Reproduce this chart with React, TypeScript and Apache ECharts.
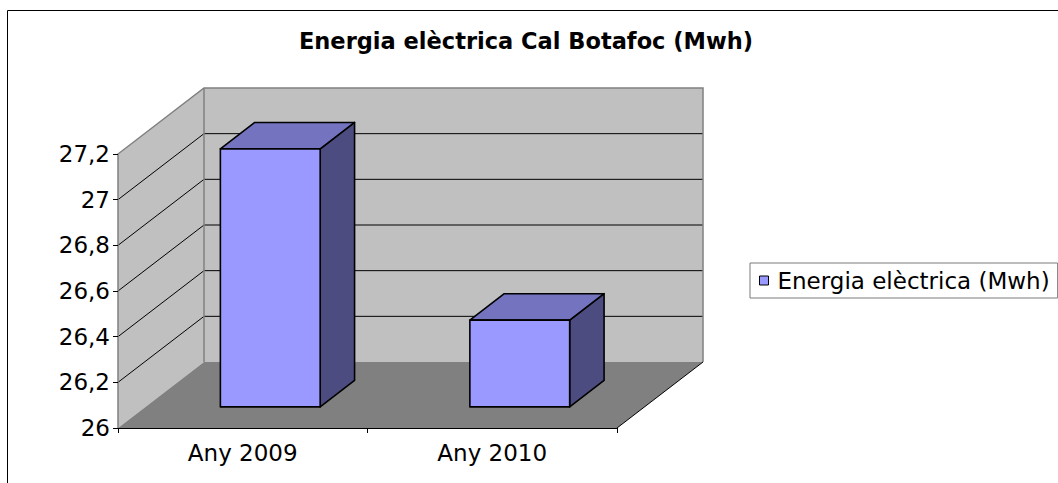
import React, { useEffect, useRef } from "react";
import * as echarts from "echarts";

const TITLE = "Energia elèctrica Cal Botafoc (Mwh)";
const CATEGORIES = ["Any 2009", "Any 2010"];
const SERIES_NAME = "Energia elèctrica (Mwh)";
const VALUES = [27.13, 26.38];
const Y_MIN = 26;
const Y_MAX = 27.2;
const Y_STEP = 0.2;
const GRID_VALUES = [26.2, 26.4, 26.6, 26.8, 27.0];

// 3D look (pixels / fractions)
const DX = 86;
const DY = -66;
const BAR_FRONT = 0.32;
const BAR_BACK = 0.72;
const BAR_WIDTH = 0.4;

const FONT = "DejaVu Sans";

export default function App() {
  const ref = useRef<HTMLDivElement>(null);

  useEffect(() => {
    const chart = echarts.init(ref.current!, null, { renderer: "svg" });

    const wallsRender = (_params: any, api: any) => {
      const band = api.size([1, 0])[0];
      const p0 = api.coord([0, Y_MIN]);
      const p1 = api.coord([CATEGORIES.length - 1, Y_MIN]);
      const xL = p0[0] - band / 2;
      const xR = p1[0] + band / 2;
      const yB = p0[1];
      const yT = api.coord([0, Y_MAX])[1];
      const children: any[] = [];
      children.push({
        type: "polygon",
        shape: { points: [[xL, yB], [xL, yT], [xL + DX, yT + DY], [xL + DX, yB + DY]] },
        style: { fill: "#C0C0C0" },
      });
      children.push({
        type: "polygon",
        shape: { points: [[xL + DX, yT + DY], [xR + DX, yT + DY], [xR + DX, yB + DY], [xL + DX, yB + DY]] },
        style: { fill: "#C0C0C0" },
      });
      children.push({
        type: "polygon",
        shape: { points: [[xL, yB], [xR, yB], [xR + DX, yB + DY], [xL + DX, yB + DY]] },
        style: { fill: "#808080" },
      });
      GRID_VALUES.forEach((v) => {
        const y = api.coord([0, v])[1];
        children.push({
          type: "polyline",
          shape: { points: [[xL, y], [xL + DX, y + DY], [xR + DX, y + DY]] },
          style: { stroke: "#000", fill: null, lineWidth: 1 },
        });
      });
      children.push({
        type: "polyline",
        shape: { points: [[xL, yB], [xL, yT], [xL + DX, yT + DY], [xR + DX, yT + DY], [xR + DX, yB + DY]] },
        style: { stroke: "#808080", fill: null, lineWidth: 1.5 },
      });
      children.push({
        type: "line",
        shape: { x1: xL + DX, y1: yT + DY, x2: xL + DX, y2: yB + DY },
        style: { stroke: "#808080", lineWidth: 1.5 },
      });
      children.push({
        type: "line",
        shape: { x1: xR, y1: yB, x2: xR + DX, y2: yB + DY },
        style: { stroke: "#000", lineWidth: 1 },
      });
      return { type: "group", children };
    };

    const barsRender = (_params: any, api: any) => {
      const cat = api.value(0);
      const val = api.value(1);
      const band = api.size([1, 0])[0];
      const base = api.coord([cat, Y_MIN]);
      const top = api.coord([cat, val]);
      const w = band * BAR_WIDTH;
      const fx = DX * BAR_FRONT;
      const fy = DY * BAR_FRONT;
      const bx = DX * (BAR_BACK - BAR_FRONT);
      const by = DY * (BAR_BACK - BAR_FRONT);
      const x0 = base[0] - w / 2 + fx;
      const x1 = base[0] + w / 2 + fx;
      const yb = base[1] + fy;
      const yt = top[1] + fy;
      const stroke = { stroke: "#000", lineWidth: 1.6, lineJoin: "round" };
      return {
        type: "group",
        children: [
          {
            type: "polygon",
            shape: { points: [[x1, yt], [x1 + bx, yt + by], [x1 + bx, yb + by], [x1, yb]] },
            style: { fill: "#4C4C80", ...stroke },
          },
          {
            type: "polygon",
            shape: { points: [[x0, yt], [x0 + bx, yt + by], [x1 + bx, yt + by], [x1, yt]] },
            style: { fill: "#7373BF", ...stroke },
          },
          {
            type: "polygon",
            shape: { points: [[x0, yt], [x1, yt], [x1, yb], [x0, yb]] },
            style: { fill: "#9999FF", ...stroke },
          },
        ],
      };
    };

    const option: any = {
      animation: false,
      backgroundColor: "#ffffff",
      title: {
        text: TITLE,
        left: 521,
        top: 24,
        textAlign: "center",
        textStyle: { fontFamily: FONT, fontWeight: "bold", fontSize: 22.5, color: "#000" },
      },
      legend: {
        left: 750,
        top: 263,
        orient: "vertical",
        padding: [6, 8, 6, 9],
        borderColor: "#7a7a7a",
        borderWidth: 1,
        itemWidth: 9,
        itemHeight: 9,
        data: [
          {
            name: SERIES_NAME,
            icon: "rect",
            itemStyle: { color: "#9999FF", borderColor: "#000", borderWidth: 1 },
          },
        ],
        textStyle: { fontFamily: FONT, fontSize: 23, color: "#000", padding: [0, 0, 0, 4] },
      },
      grid: { left: 118, top: 154, width: 499, height: 274 },
      xAxis: {
        type: "category",
        data: CATEGORIES,
        z: 5,
        axisLine: { show: true, lineStyle: { color: "#000", width: 1 } },
        axisTick: { show: true, length: 5, lineStyle: { color: "#000" } },
        axisLabel: { fontFamily: FONT, fontSize: 23, color: "#000", margin: 13 },
        splitLine: { show: false },
      },
      yAxis: {
        type: "value",
        min: Y_MIN,
        max: Y_MAX,
        interval: Y_STEP,
        z: 5,
        axisLine: { show: false },
        axisTick: { show: true, length: 5, lineStyle: { color: "#000" } },
        axisLabel: {
          fontFamily: FONT,
          fontSize: 23,
          color: "#000",
          margin: 8,
          formatter: (v: number) => String(+v.toFixed(1)).replace(".", ","),
        },
        splitLine: { show: false },
      },
      graphic: [
        {
          type: "rect",
          shape: { x: 7.5, y: 10.5, width: 1200, height: 600 },
          style: { fill: "none", stroke: "#000", lineWidth: 1 },
          silent: true,
          z: -1,
        },
      ],
      series: [
        {
          type: "custom",
          name: "walls",
          silent: true,
          z: 1,
          data: [[0, Y_MIN]],
          renderItem: wallsRender,
        },
        {
          type: "custom",
          name: SERIES_NAME,
          z: 3,
          itemStyle: { color: "#9999FF" },
          data: VALUES.map((v, i) => [i, v]),
          renderItem: barsRender,
        },
      ],
    };

    chart.setOption(option);
    return () => chart.dispose();
  }, []);

  return (
    <div
      ref={ref}
      style={{ position: "absolute", left: 0, top: 0, width: 1058, height: 483 }}
    />
  );
}
